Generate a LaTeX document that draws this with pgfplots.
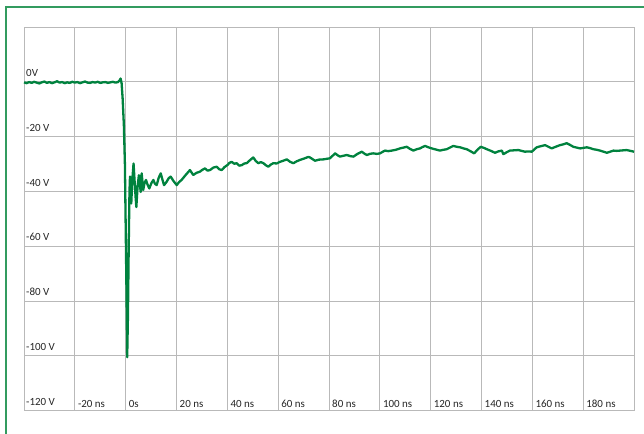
\documentclass[border=0pt]{standalone}
\usepackage{pgfplots}
\pgfplotsset{compat=1.18}
\usepackage{pgfplotstable}
\usepackage{fontspec}
\setmainfont{Carlito}
\definecolor{trace}{RGB}{0,130,62}
\definecolor{framegreen}{RGB}{50,155,95}
\definecolor{gridgray}{RGB}{185,185,185}
\pgfplotstableread{
t v
-40 -0.2
-39 -0.5
-38 -0.1
-37 -0.4
-36 0.0
-35 -0.3
-34 -0.6
-33 -0.2
-32 0.1
-31 -0.4
-30 -0.1
-29 -0.5
-28 -0.2
-27 0.2
-26 -0.3
-25 -0.1
-24 -0.5
-23 -0.2
-22 -0.4
-21 0.0
-20 -0.3
-19 -0.1
-18 -0.5
-17 -0.2
-16 0.1
-15 -0.3
-14 -0.4
-13 -0.1
-12 -0.3
-11 0.0
-10 -0.4
-9 -0.2
-8 -0.1
-7 -0.4
-6 -0.2
-5 0.0
-4 -0.3
-3 -0.1
-2.3 0.6
-2.0 1.2
-1.6 -0.5
-1.2 -6
-0.7 -16
-0.3 -30
0.0 -52
0.3 -75
0.6 -100.5
0.9 -85
1.2 -60
1.5 -40
1.7 -34.6
2.0 -41
2.2 -44.4
2.6 -36
3.1 -29.8
3.5 -36
3.9 -42
4.2 -45.7
4.7 -38
5.2 -34.1
5.6 -37.5
5.9 -40.2
6.3 -33.4
6.9 -39.5
7.4 -37
8.0 -35.8
8.6 -37.5
9.3 -38.9
10.1 -37
10.9 -35.8
11.5 -37.2
12.2 -37.7
13.0 -35
13.8 -33.4
14.5 -35.8
15.1 -37.7
16.1 -36.5
16.9 -35.2
17.7 -34.6
18.9 -36.3
20.1 -37.7
21.0 -36.6
22.0 -35.8
23.6 -34
25.3 -32.2
26.0 -33.2
26.6 -34.0
27.9 -33.2
29.2 -32.8
30.2 -32.1
31.2 -31.6
32.2 -32.4
33.2 -32.2
34.5 -31.3
35.8 -31.0
36.8 -31.9
37.8 -32.2
38.9 -31.1
40.0 -30.4
40.8 -29.6
41.7 -29.2
42.7 -29.9
43.7 -29.7
44.7 -30.6
45.7 -30.4
46.7 -29.8
47.6 -29.7
48.9 -28.6
50.2 -27.6
51.2 -28.9
52.2 -29.7
53.2 -29.3
54.2 -29.7
55.1 -30.4
56.1 -31.0
57.1 -30.2
58.1 -29.7
59.4 -29.8
60.7 -29.2
62.0 -28.8
63.4 -28.3
64.7 -29.2
66.0 -29.7
67.3 -29.0
68.6 -28.5
70.2 -28.0
71.9 -27.4
72.5 -27.6
73.5 -28.2
74.5 -28.8
76.1 -28.4
77.8 -28.3
79.1 -28.1
80.4 -27.9
81.4 -27.0
82.4 -26.1
83.4 -26.8
84.3 -27.3
85.6 -27.0
87.0 -26.7
88.3 -27.1
89.6 -27.3
91.2 -26.3
92.9 -25.5
93.9 -26.2
94.9 -26.7
96.1 -26.3
97.4 -26.1
98.8 -26.3
100.1 -26.1
101.0 -25.6
102.0 -25.1
103.3 -25.3
104.7 -25.1
106.3 -24.8
107.9 -24.3
109.3 -24.0
110.6 -23.7
111.9 -24.5
113.2 -25.1
114.5 -24.6
115.8 -24.3
116.8 -23.8
117.8 -23.4
119.1 -23.9
120.4 -24.3
122.0 -24.7
123.7 -25.1
125.0 -24.8
126.3 -24.6
127.6 -24.0
128.9 -23.4
130.2 -23.7
131.6 -23.9
132.9 -24.3
134.2 -24.6
135.6 -25.3
137.1 -26.1
138.4 -24.8
139.7 -23.7
140.9 -24.1
142.1 -24.6
143.7 -25.2
145.3 -25.9
146.6 -25.4
148.0 -25.1
148.6 -26.4
149.9 -25.7
151.2 -25.1
152.8 -25.0
154.5 -24.9
155.8 -25.2
157.1 -25.5
158.4 -25.4
159.8 -25.5
161.7 -23.9
163.3 -23.5
165.0 -23.1
166.3 -23.7
167.6 -24.3
169.2 -23.7
170.9 -23.1
172.2 -22.8
173.5 -22.4
174.8 -23.0
176.1 -23.7
177.4 -24.0
178.8 -24.3
180.1 -24.1
181.4 -23.9
182.7 -24.2
184.0 -24.6
185.3 -24.8
186.6 -25.1
188.0 -25.5
189.3 -25.9
190.6 -25.5
191.9 -25.1
193.2 -25.2
194.5 -25.1
195.8 -25.0
197.1 -24.9
198.6 -25.2
200 -25.5
}\trace
\begin{document}
\begin{tikzpicture}[x=1bp,y=1bp]
\useasboundingbox (0,0) rectangle (644,434);
\draw[framegreen, line width=1.2bp] (6,0) -- (6,427) -- (644,427);
\begin{axis}[
  at={(24bp,23.3bp)}, anchor=south west,
  scale only axis, width=610bp, height=383.7bp,
  xmin=-40, xmax=200, ymin=-120, ymax=20,
  xtick={-40,-20,...,200},
  xticklabels={,-20 ns,0s,20 ns,40 ns,60 ns,80 ns,100 ns,120 ns,140 ns,160 ns,180 ns,},
  ytick={-120,-100,...,20},
  yticklabels={-120 V,-100 V,-80 V,-60 V,-40 V,-20 V,0V,},
  grid=major,
  major grid style={draw=gridgray, line width=0.9bp},
  axis line style={draw=gridgray, line width=0.9bp},
  major tick length=0pt,
  tick label style={font=\fontsize{11}{13}\selectfont, text=black!85},
  xticklabel style={anchor=south west, inner sep=2.2bp, xshift=0.8bp, yshift=0.8bp},
  yticklabel style={anchor=south west, inner sep=1.5bp, xshift=0.5bp, yshift=3.5bp},
  clip=false,
]
\addplot[trace, line width=2.3bp, line join=round] table[x=t,y=v] {\trace};
\end{axis}
\end{tikzpicture}
\end{document}
